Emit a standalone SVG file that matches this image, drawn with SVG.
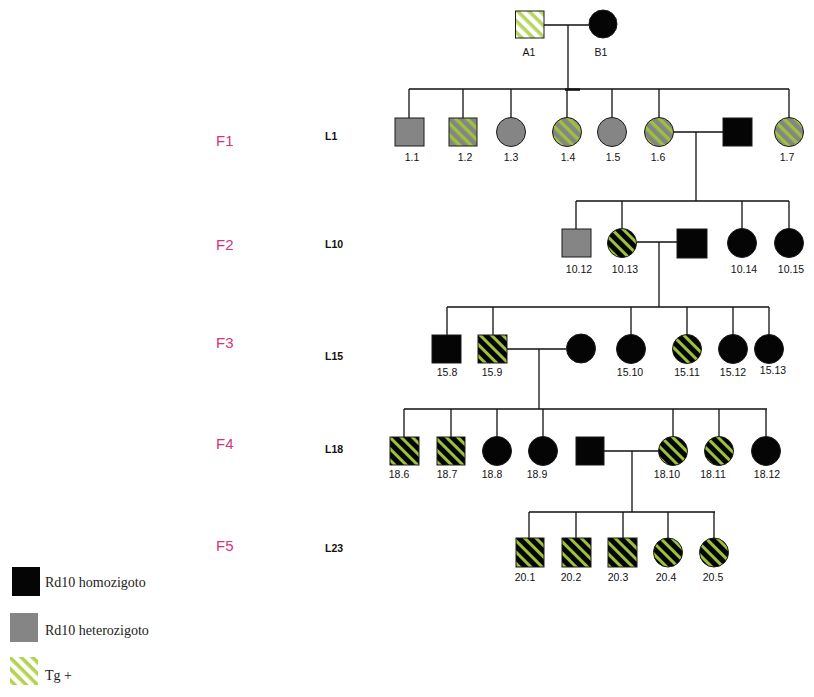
<svg xmlns="http://www.w3.org/2000/svg" width="814" height="697" viewBox="0 0 814 697">
<style>
.ln{stroke:#111;stroke-width:1.3;fill:none}
.sym{stroke:#1a1a1a;stroke-width:1}
.lab{font-family:"Liberation Sans",Arial,sans-serif;font-size:10.5px;fill:#111;text-anchor:middle}
.gen{font-family:"Liberation Sans",Arial,sans-serif;font-size:15px;fill:#d6337a}
.line{font-family:"Liberation Sans",Arial,sans-serif;font-size:10.5px;font-weight:bold;fill:#111}
.leg{font-family:"Liberation Serif","Times New Roman",serif;font-size:14px;fill:#222}
</style>
<defs>
<pattern id="hw" patternUnits="userSpaceOnUse" width="8" height="8" patternTransform="rotate(45)">
<rect width="8" height="8" fill="#ffffff"/><rect width="8" height="3.6" fill="#b9d55e"/>
</pattern>
<pattern id="hg" patternUnits="userSpaceOnUse" width="8" height="8" patternTransform="rotate(45)">
<rect width="8" height="8" fill="#858585"/><rect width="8" height="3.4" fill="#9cc23a"/>
</pattern>
<pattern id="hb" patternUnits="userSpaceOnUse" width="8" height="8" patternTransform="rotate(45)">
<rect width="8" height="8" fill="#050505"/><rect width="8" height="3" fill="#9cc23a"/>
</pattern>
<pattern id="hl" patternUnits="userSpaceOnUse" width="8" height="8" patternTransform="rotate(45)">
<rect width="8" height="8" fill="#ffffff"/><rect width="8" height="3.6" fill="#b5d24e"/>
</pattern>
</defs>
<rect width="814" height="697" fill="#ffffff"/>

<g id="connectors" class="ln">
<path d="M544 25H589M568 25V89M409 89H789"/>
<path d="M565 89.6H580" stroke-width="2.4"/>
<path d="M409 89V118M463 89V118M511 89V118M567 89V118M612 89V118M659 89V118M789 89V118"/>
<path d="M673 132H723M696 132V201M576 201H789"/>
<path d="M576 201V229M622 201V229M742 201V229M789 201V229"/>
<path d="M637 242H677M659 242V307M447 307H769"/>
<path d="M447 307V335M493 307V335M631 307V335M687 307V335M733 307V335M769 307V335"/>
<path d="M507 349H566M539 349V409M404 409H767"/>
<path d="M404 409V437M451 409V437M497 409V437M543 409V437M673 409V437M719 409V437M766 409V437"/>
<path d="M604 451H658M632 451V512M529 512H715"/>
<path d="M529 512V538M576 512V538M623 512V538M668 512V538M714 512V538"/>
</g>

<g id="A1"><rect class="sym" x="515.5" y="11" width="28.5" height="27" fill="url(#hw)"/><text class="lab" x="529" y="56">A1</text></g>
<g id="B1"><circle class="sym" cx="603" cy="24" r="14" fill="#050505"/><text class="lab" x="601" y="56">B1</text></g>

<g id="n1_1"><rect class="sym" x="395" y="118" width="29" height="28" fill="#858585"/><text class="lab" x="412" y="161">1.1</text></g>
<g id="n1_2"><rect class="sym" x="449" y="118" width="28" height="28" fill="url(#hg)"/><text class="lab" x="465" y="161">1.2</text></g>
<g id="n1_3"><circle class="sym" cx="511" cy="132" r="14.5" fill="#858585"/><text class="lab" x="511" y="161">1.3</text></g>
<g id="n1_4"><circle class="sym" cx="567" cy="132" r="14.5" fill="url(#hg)"/><text class="lab" x="568" y="161">1.4</text></g>
<g id="n1_5"><circle class="sym" cx="612" cy="132" r="14.5" fill="#858585"/><text class="lab" x="613" y="161">1.5</text></g>
<g id="n1_6"><circle class="sym" cx="659" cy="132" r="14.5" fill="url(#hg)"/><text class="lab" x="658" y="161">1.6</text></g>
<g id="s1_6"><rect class="sym" x="723" y="118" width="29" height="28" fill="#050505"/></g>
<g id="n1_7"><circle class="sym" cx="789" cy="132" r="14.5" fill="url(#hg)"/><text class="lab" x="787" y="161">1.7</text></g>

<g id="n10_12"><rect class="sym" x="562" y="229" width="29" height="28" fill="#858585"/><text class="lab" x="579" y="273">10.12</text></g>
<g id="n10_13"><circle class="sym" cx="622" cy="243" r="14.5" fill="url(#hb)"/><text class="lab" x="625" y="273">10.13</text></g>
<g id="s10_13"><rect class="sym" x="677" y="229" width="30" height="29" fill="#050505"/></g>
<g id="n10_14"><circle class="sym" cx="742" cy="243" r="14.5" fill="#050505"/><text class="lab" x="744" y="273">10.14</text></g>
<g id="n10_15"><circle class="sym" cx="789" cy="243" r="14.5" fill="#050505"/><text class="lab" x="791" y="273">10.15</text></g>

<g id="n15_8"><rect class="sym" x="432" y="335" width="29" height="28" fill="#050505"/><text class="lab" x="447" y="376">15.8</text></g>
<g id="n15_9"><rect class="sym" x="478" y="335" width="29" height="28" fill="url(#hb)"/><text class="lab" x="492" y="376">15.9</text></g>
<g id="s15_9"><circle class="sym" cx="581" cy="348.5" r="14.5" fill="#050505"/></g>
<g id="n15_10"><circle class="sym" cx="631" cy="349" r="14.5" fill="#050505"/><text class="lab" x="630" y="376">15.10</text></g>
<g id="n15_11"><circle class="sym" cx="687" cy="349" r="14.5" fill="url(#hb)"/><text class="lab" x="687" y="376">15.11</text></g>
<g id="n15_12"><circle class="sym" cx="733" cy="349" r="14.5" fill="#050505"/><text class="lab" x="733" y="376">15.12</text></g>
<g id="n15_13"><circle class="sym" cx="769" cy="349" r="14.5" fill="#050505"/><text class="lab" x="773" y="374">15.13</text></g>

<g id="n18_6"><rect class="sym" x="390" y="437" width="29" height="28" fill="url(#hb)"/><text class="lab" x="399" y="478">18.6</text></g>
<g id="n18_7"><rect class="sym" x="437" y="437" width="28" height="28" fill="url(#hb)"/><text class="lab" x="447" y="478">18.7</text></g>
<g id="n18_8"><circle class="sym" cx="497" cy="451" r="14.5" fill="#050505"/><text class="lab" x="492" y="478">18.8</text></g>
<g id="n18_9"><circle class="sym" cx="543" cy="451" r="14.5" fill="#050505"/><text class="lab" x="537" y="478">18.9</text></g>
<g id="s18_10"><rect class="sym" x="576" y="437" width="28" height="28" fill="#050505"/></g>
<g id="n18_10"><circle class="sym" cx="673" cy="451" r="14.5" fill="url(#hb)"/><text class="lab" x="667" y="478">18.10</text></g>
<g id="n18_11"><circle class="sym" cx="719" cy="451" r="14.5" fill="url(#hb)"/><text class="lab" x="713" y="478">18.11</text></g>
<g id="n18_12"><circle class="sym" cx="766" cy="451" r="14.5" fill="#050505"/><text class="lab" x="767" y="478">18.12</text></g>

<g id="n20_1"><rect class="sym" x="516" y="538" width="28" height="29" fill="url(#hb)"/><text class="lab" x="525" y="581">20.1</text></g>
<g id="n20_2"><rect class="sym" x="562" y="538" width="29" height="29" fill="url(#hb)"/><text class="lab" x="571" y="581">20.2</text></g>
<g id="n20_3"><rect class="sym" x="608" y="538" width="29" height="29" fill="url(#hb)"/><text class="lab" x="618" y="581">20.3</text></g>
<g id="n20_4"><circle class="sym" cx="668" cy="552.5" r="14.5" fill="url(#hb)"/><text class="lab" x="666" y="581">20.4</text></g>
<g id="n20_5"><circle class="sym" cx="714" cy="552.5" r="14.5" fill="url(#hb)"/><text class="lab" x="713" y="581">20.5</text></g>

<g id="generations">
<text class="gen" x="216" y="146">F1</text>
<text class="gen" x="216" y="250">F2</text>
<text class="gen" x="216" y="348">F3</text>
<text class="gen" x="216" y="449">F4</text>
<text class="gen" x="216" y="551">F5</text>
<text class="line" x="325" y="140">L1</text>
<text class="line" x="325" y="248">L10</text>
<text class="line" x="325" y="360">L15</text>
<text class="line" x="325" y="453">L18</text>
<text class="line" x="325" y="552">L23</text>
</g>

<g id="legend">
<rect x="12" y="567" width="28" height="29" fill="#050505"/>
<text class="leg" x="45" y="587">Rd10 homozigoto</text>
<rect x="10" y="613" width="28" height="29" fill="#858585"/>
<text class="leg" x="45" y="635">Rd10 heterozigoto</text>
<rect x="10" y="657" width="28" height="28" fill="url(#hl)"/>
<text class="leg" x="45" y="680">Tg +</text>
</g>
</svg>
